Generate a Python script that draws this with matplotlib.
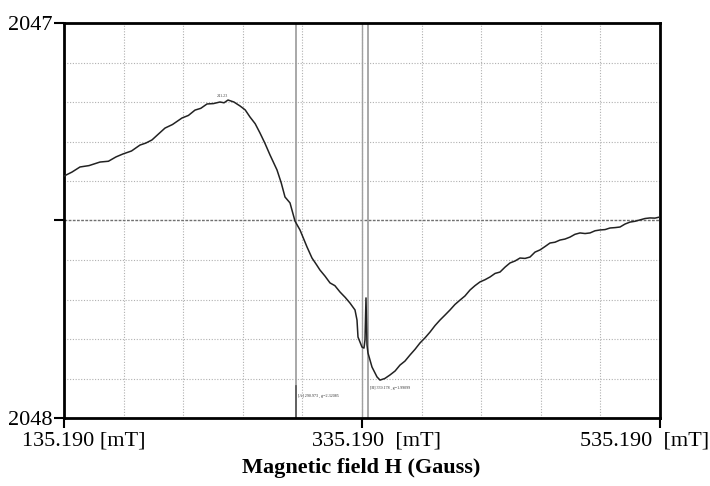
import numpy as np
import matplotlib
matplotlib.use("Agg")
import matplotlib.pyplot as plt

plt.rcParams['font.family'] = ['Liberation Serif', 'DejaVu Serif']

# field in mT, signal in arbitrary units (-1 bottom .. 1 top)
field = [135.19, 140.5, 145.93, 152.0, 159.35, 165.0, 170.1, 174.79, 180.5, 186.20,
         190.1, 194.25, 198.6, 202.98, 208.0, 214.38, 218.7, 223.11, 227.0, 231.16,
         235.5, 239.88, 242.6, 245.26, 249.2, 253.31, 256.8, 260.02, 263.5, 266.73,
         270.1, 273.44, 278.14, 281.0, 283.51, 286.87, 290.22, 293.58, 298.28, 301.63,
         304.5, 307.00, 310.4, 313.71, 317.0, 320.42, 324.0, 327.13, 330.49, 331.83,
         332.50, 335.19, 336.53, 337.20, 337.87, 338.54, 339.21, 341.90, 345.26, 347.27,
         350.5, 353.98, 357.4, 360.69, 364.0, 367.40, 370.8, 374.12, 377.5, 380.83,
         384.2, 387.54, 391.0, 394.25, 397.6, 400.96, 404.3, 407.67, 411.0, 414.38,
         417.7, 421.10, 424.5, 427.81, 431.2, 434.52, 437.9, 441.23, 444.6, 447.94,
         451.3, 454.65, 458.0, 461.36, 464.7, 468.07, 471.4, 474.79, 478.1, 481.50,
         484.9, 488.21, 491.6, 494.92, 498.3, 501.63, 505.0, 508.34, 511.7, 515.06,
         518.4, 521.77, 525.1, 528.48, 531.8, 535.19]
signal = [0.225, 0.245, 0.271, 0.278, 0.296, 0.300, 0.322, 0.337, 0.352, 0.382,
          0.392, 0.408, 0.438, 0.468, 0.486, 0.519, 0.532, 0.559, 0.568, 0.590,
          0.592, 0.600, 0.596, 0.610, 0.600, 0.580, 0.560, 0.524, 0.490, 0.443,
          0.390, 0.332, 0.256, 0.190, 0.119, 0.089, -0.003, -0.048, -0.134, -0.190,
          -0.222, -0.251, -0.282, -0.316, -0.330, -0.362, -0.390, -0.418, -0.453, -0.504,
          -0.590, -0.641, -0.646, -0.605, -0.392, -0.630, -0.671, -0.742, -0.792, -0.808,
          -0.800, -0.782, -0.762, -0.732, -0.712, -0.681, -0.652, -0.620, -0.594, -0.565,
          -0.532, -0.504, -0.478, -0.453, -0.425, -0.403, -0.382, -0.352, -0.330, -0.311,
          -0.300, -0.286, -0.268, -0.261, -0.236, -0.215, -0.205, -0.190, -0.192, -0.185,
          -0.160, -0.149, -0.132, -0.114, -0.110, -0.099, -0.094, -0.084, -0.070, -0.063,
          -0.066, -0.063, -0.052, -0.048, -0.046, -0.038, -0.036, -0.033, -0.018, -0.008,
          -0.004, 0.003, 0.010, 0.013, 0.012, 0.018]

x_ticks = [135.19, 335.19, 535.19]
x_tick_labels = ['135.190 [mT]', '335.190  [mT]', '535.190  [mT]']
y_tick_labels = ['2048', '', '2047']
marker_a = 290.973
marker_b = 339.178
peak_label = '241.23'
label_a = '[A] 290.973 , g=2.32085'
label_b = '[B] 339.178 , g=1.99099'

fig = plt.figure(figsize=(7.1, 4.86), dpi=100)
ax = fig.add_axes([64/710, 68/486, 596/710, 395/486])

ax.set_xlim(x_ticks[0], x_ticks[-1])
ax.set_ylim(-1, 1)

# scanned-looking grid
for gx in np.arange(175.19, 535.0, 40.0):
    ax.axvline(gx, color='#b0b0b0', lw=0.8, ls=(0, (1, 1.5)), zorder=1)
for gy in np.arange(-0.8, 0.81, 0.2):
    if abs(gy) < 1e-6:
        ax.axhline(0, color='#707070', lw=1.0, ls=(0, (2, 1)), zorder=1)
    else:
        ax.axhline(gy, color='#b0b0b0', lw=0.8, ls=(0, (1, 1.5)), zorder=1)

# marker lines
ax.axvline(marker_a, color='#9a9a9a', lw=1.2, zorder=2)
ax.plot([marker_a, marker_a], [-1, -0.84], color='#555555', lw=1.2, zorder=2)
ax.axvline(335.19, color='#a0a0a0', lw=1.0, zorder=2)
ax.axvline(marker_b, color='#9a9a9a', lw=1.2, zorder=2)

ax.plot(field, signal, color='#222222', lw=1.1, zorder=3)

ax.text(241.5, 0.62, peak_label, fontsize=3, ha='center', va='bottom', color='#444444')
ax.text(marker_a + 1.5, -0.89, label_a, fontsize=3, ha='left', va='center', color='#333333')
ax.text(marker_b + 1.5, -0.85, label_b, fontsize=3, ha='left', va='center', color='#333333')

for s in ax.spines.values():
    s.set_linewidth(2)
    s.set_color('black')

ax.set_yticks([-1, 0, 1])
ax.set_yticklabels(y_tick_labels, fontsize=16)
ax.yaxis.set_tick_params(width=1.5, length=7, direction='out', pad=1)
ax.set_xticks(x_ticks)
ax.set_xticklabels([])
ax.xaxis.set_tick_params(width=1.5, length=7, direction='out')

offsets = [-42, -50, -80]
for xv, lab, off in zip(x_ticks, x_tick_labels, offsets):
    ax.annotate(lab, xy=(xv, 0), xycoords=('data', 'axes fraction'),
                xytext=(off, -13), textcoords='offset pixels',
                ha='left', va='top', fontsize=16)

fig.text(361/710, 1 - 468/486, 'Magnetic field H (Gauss)', fontsize=16,
         fontweight='bold', ha='center', va='center')

fig.savefig('out.png', dpi=100)
